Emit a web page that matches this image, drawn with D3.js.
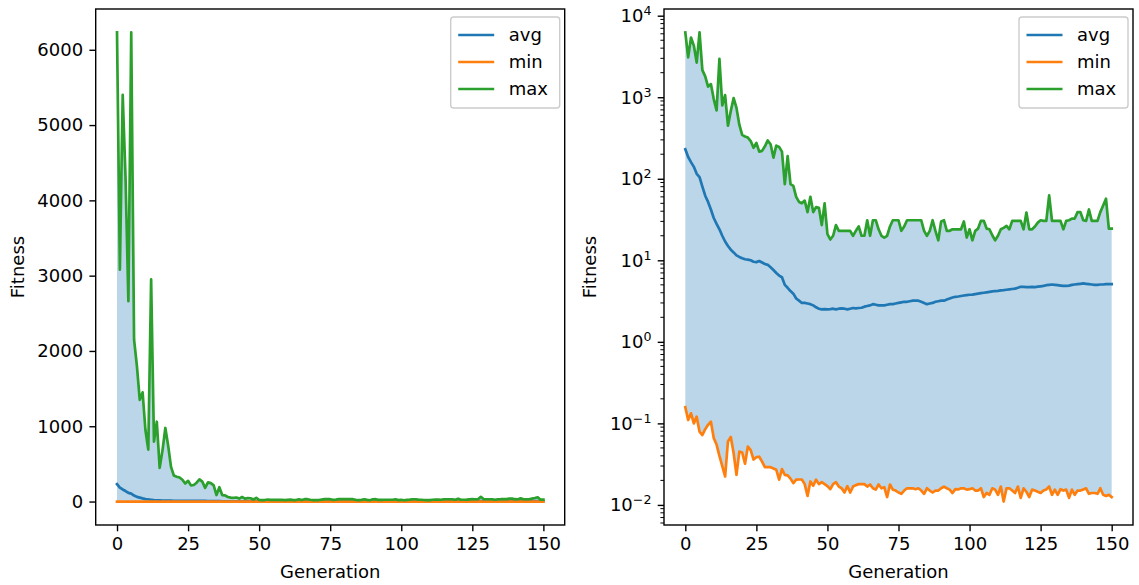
<!DOCTYPE html>
<html>
<head>
<meta charset="utf-8">
<script src="https://cdn.jsdelivr.net/npm/d3@7"></script>
<style>
  body { margin: 0; background: #fff; }
  svg { display: block; font-family: "DejaVu Sans", sans-serif; }
</style>
</head>
<body>
<div id="chart"></div>
<script>
// ========================
// Data
// ========================
const seriesNames = ["avg", "min", "max"];
const xTicks = [0, 25, 50, 75, 100, 125, 150];
const linearTicks = [0, 1000, 2000, 3000, 4000, 5000, 6000];
const logTickExps = [-2, -1, 0, 1, 2, 3, 4];

const avgValues = [
  230, 185, 160, 140, 115, 105, 80, 62, 52, 42,
  33, 28, 24, 20, 17, 15, 13.5, 12.5, 11.5, 11,
  10.6, 10.3, 10.2, 10.0, 9.6, 9.5, 9.8, 9.4, 9.0, 8.8,
  8.2, 7.6, 7.0, 6.5, 6.2, 5.0, 4.6, 4.2, 3.9, 3.4,
  3.2, 3.0, 3.0, 2.95, 2.9, 2.8, 2.65, 2.55, 2.5, 2.52,
  2.5, 2.52, 2.55, 2.5, 2.55, 2.57, 2.55, 2.5, 2.55, 2.6,
  2.58, 2.6, 2.62, 2.7, 2.75, 2.8, 2.9, 2.85, 2.8, 2.8,
  2.8, 2.85, 2.9, 2.9, 2.95, 3.0, 3.05, 3.1, 3.1, 3.15,
  3.2, 3.2, 3.2, 3.1, 3.0, 2.9, 2.95, 3.0, 3.1, 3.15,
  3.2, 3.2, 3.3, 3.4, 3.5, 3.57, 3.6, 3.65, 3.7, 3.74,
  3.78, 3.8, 3.85, 3.9, 3.95, 4.0, 4.05, 4.1, 4.15, 4.2,
  4.22, 4.28, 4.3, 4.35, 4.4, 4.45, 4.5, 4.6, 4.73, 4.72,
  4.7, 4.7, 4.72, 4.7, 4.75, 4.8, 4.85, 4.95, 5.0, 5.05,
  5.0, 4.95, 4.9, 4.85, 4.85, 4.9, 5.0, 5.05, 5.1, 5.15,
  5.2, 5.15, 5.1, 5.05, 5.0, 5.0, 5.05, 5.05, 5.1, 5.1,
  5.1
];

const minValues = [
  0.158, 0.110, 0.133, 0.100, 0.121, 0.079, 0.072, 0.085, 0.096, 0.105,
  0.066, 0.055, 0.040, 0.030, 0.0223, 0.060, 0.068, 0.043, 0.0234, 0.045,
  0.044, 0.032, 0.052, 0.047, 0.036, 0.0385, 0.039, 0.034, 0.029, 0.029,
  0.029, 0.028, 0.027, 0.0204, 0.0275, 0.0234, 0.023, 0.021, 0.0185, 0.0204,
  0.0205, 0.0205, 0.018, 0.0129, 0.0194, 0.0172, 0.0204, 0.018, 0.019, 0.018,
  0.017, 0.0156, 0.018, 0.019, 0.0168, 0.016, 0.0142, 0.017, 0.0142, 0.0168,
  0.0175, 0.018, 0.018, 0.018, 0.0168, 0.0178, 0.016, 0.0154, 0.0178, 0.016,
  0.0165, 0.0125, 0.0178, 0.0154, 0.015, 0.0142, 0.0137, 0.015, 0.016, 0.016,
  0.016, 0.0156, 0.016, 0.015, 0.0137, 0.016, 0.015, 0.0142, 0.015, 0.015,
  0.016, 0.0168, 0.016, 0.0154, 0.014, 0.0156, 0.0155, 0.016, 0.016, 0.0154,
  0.0156, 0.016, 0.015, 0.015, 0.016, 0.0125, 0.014, 0.0133, 0.016, 0.0154,
  0.0133, 0.0168, 0.011, 0.016, 0.016, 0.015, 0.014, 0.0168, 0.0122, 0.016,
  0.0145, 0.0125, 0.0154, 0.015, 0.0145, 0.014, 0.015, 0.0155, 0.0168, 0.0133,
  0.0154, 0.0133, 0.0156, 0.015, 0.0154, 0.0122, 0.0154, 0.0133, 0.015, 0.015,
  0.0155, 0.016, 0.0137, 0.014, 0.014, 0.0137, 0.016, 0.0133, 0.0129, 0.0133,
  0.0125
];

const maxValues = [
  6230, 3080, 5400, 4300, 2660, 6230, 2150, 1800, 1350, 1450,
  950, 690, 2950, 796, 1060, 447, 680, 977, 740, 460,
  345, 330, 320, 290, 240, 275, 215, 220, 250, 295,
  265, 182, 255, 245, 215, 86, 190, 86, 82, 60,
  52, 50, 54, 39, 60, 39, 45, 44, 27, 50,
  21, 18, 20, 27, 23, 23, 23, 23, 23, 20,
  23, 26, 20, 20, 31, 20, 31, 31, 24, 20,
  19, 20, 26, 31, 31, 31, 23, 26, 31, 31,
  31, 31, 31, 31, 23, 20, 23, 31, 23, 17.6,
  30, 31, 23, 23, 24, 24, 24, 24, 30, 19,
  24, 17.6, 23, 24.5, 30.5, 30.5, 24.5, 24, 20.3, 17.6,
  20, 24, 25, 26.4, 24, 30.5, 30.5, 30.5, 30.5, 24,
  38.5, 24, 24, 26, 29, 31, 30.5, 30.5, 62.6, 30.5,
  30.5, 30.5, 30.5, 24, 30.5, 31, 32.5, 32.5, 39, 39,
  31, 30.5, 42, 30.5, 30.5, 30.5, 39, 47, 57, 24.5,
  24.5
];

const generations = d3.range(avgValues.length);
const colors = { avg: "#1f77b4", min: "#ff7f0e", max: "#2ca02c" };
const valuesBySeries = { avg: avgValues, min: minValues, max: maxValues };

// ========================
// Setup
// ========================
const width = 1139, height = 585;
const fontSize = 18;
const lineW = 2.7, spineW = 1.4;
const tickLen = 6.3, tickPad = 6.3;

const svg = d3.select("#chart").append("svg")
  .attr("width", width)
  .attr("height", height);

const panels = [
  { left: 95.7, right: 564.7, top: 9, bottom: 525, log: false, ylabelX: 18 },
  { left: 664, right: 1133, top: 9, bottom: 525, log: true, ylabelX: 590 }
];

// matplotlib-style 5% margins
const xPad = (d3.max(generations) - d3.min(generations)) * 0.05;
const allMin = d3.min(minValues), allMax = d3.max(maxValues);

panels.forEach(p => {
  const x = d3.scaleLinear()
    .domain([d3.min(generations) - xPad, d3.max(generations) + xPad])
    .range([p.left, p.right]);

  let y;
  if (p.log) {
    const lo = Math.log10(allMin), hi = Math.log10(allMax);
    const pad = (hi - lo) * 0.05;
    y = d3.scaleLog().domain([10 ** (lo - pad), 10 ** (hi + pad)]).range([p.bottom, p.top]);
  } else {
    const pad = (allMax - allMin) * 0.05;
    y = d3.scaleLinear().domain([allMin - pad, allMax + pad]).range([p.bottom, p.top]);
  }

  const g = svg.append("g");

  // clip to the axes box
  const clipId = "clip" + (p.log ? "Log" : "Lin");
  svg.append("clipPath").attr("id", clipId)
    .append("rect")
    .attr("x", p.left).attr("y", p.top)
    .attr("width", p.right - p.left).attr("height", p.bottom - p.top);

  const plot = g.append("g").attr("clip-path", `url(#${clipId})`);

  // fill between min and max
  const area = d3.area()
    .x(i => x(generations[i]))
    .y0(i => y(minValues[i]))
    .y1(i => y(maxValues[i]));

  plot.append("path")
    .datum(generations)
    .attr("d", area)
    .attr("fill", colors.avg)
    .attr("fill-opacity", 0.3);

  // lines
  seriesNames.forEach(name => {
    const vals = valuesBySeries[name];
    const line = d3.line()
      .x(i => x(generations[i]))
      .y(i => y(vals[i]));
    plot.append("path")
      .datum(generations)
      .attr("d", line)
      .attr("fill", "none")
      .attr("stroke", colors[name])
      .attr("stroke-width", lineW)
      .attr("stroke-linejoin", "round")
      .attr("stroke-linecap", "square");
  });

  // x axis
  const xAxis = d3.axisBottom(x)
    .tickValues(xTicks)
    .tickSize(tickLen)
    .tickPadding(tickPad)
    .tickFormat(d3.format("d"));

  const gx = g.append("g")
    .attr("transform", `translate(0,${p.bottom})`)
    .call(xAxis);
  gx.select(".domain").remove();
  gx.selectAll(".tick line").attr("stroke", "#000").attr("stroke-width", spineW);
  gx.selectAll(".tick text")
    .attr("fill", "#000")
    .style("font-size", fontSize + "px")
    .style("font-family", "DejaVu Sans");

  // y axis
  const gy = g.append("g").attr("transform", `translate(${p.left},0)`);
  if (p.log) {
    const yAxis = d3.axisLeft(y)
      .tickValues(logTickExps.map(e => 10 ** e))
      .tickSize(tickLen)
      .tickPadding(tickPad)
      .tickFormat("");
    gy.call(yAxis);
    gy.selectAll(".tick").each(function (d, i) {
      const t = d3.select(this).select("text").text(null);
      const e = logTickExps[i];
      t.attr("dy", "0.32em");
      t.append("tspan").text("10");
      t.append("tspan")
        .attr("dy", "-0.55em")
        .style("font-size", (fontSize * 0.7) + "px")
        .text(e < 0 ? "\u2212" + Math.abs(e) : String(e));
    });
    // minor ticks
    const [d0, d1] = y.domain();
    const minor = [];
    for (let e = -3; e <= 4; e++) {
      for (let m = 2; m <= 9; m++) {
        const v = m * 10 ** e;
        if (v >= d0 && v <= d1) minor.push(v);
      }
    }
    gy.selectAll(".minor")
      .data(minor)
      .enter()
      .append("line")
      .attr("class", "minor")
      .attr("x1", -3.6).attr("x2", 0)
      .attr("y1", d => y(d)).attr("y2", d => y(d))
      .attr("stroke", "#000")
      .attr("stroke-width", 1.0);
  } else {
    const yAxis = d3.axisLeft(y)
      .tickValues(linearTicks)
      .tickSize(tickLen)
      .tickPadding(tickPad)
      .tickFormat(d3.format("d"));
    gy.call(yAxis);
  }
  gy.select(".domain").remove();
  gy.selectAll(".tick line").attr("stroke", "#000").attr("stroke-width", spineW);
  gy.selectAll(".tick text")
    .attr("fill", "#000")
    .style("font-size", fontSize + "px")
    .style("font-family", "DejaVu Sans");

  // frame
  g.append("rect")
    .attr("x", p.left).attr("y", p.top)
    .attr("width", p.right - p.left).attr("height", p.bottom - p.top)
    .attr("fill", "none")
    .attr("stroke", "#000")
    .attr("stroke-width", spineW);

  // axis labels
  g.append("text")
    .attr("x", (p.left + p.right) / 2)
    .attr("y", 572)
    .attr("dy", "0.35em")
    .attr("text-anchor", "middle")
    .style("font-size", fontSize + "px")
    .text("Generation");

  g.append("text")
    .attr("transform", `translate(${p.ylabelX},${(p.top + p.bottom) / 2}) rotate(-90)`)
    .attr("text-anchor", "middle")
    .attr("dy", "0.35em")
    .style("font-size", fontSize + "px")
    .text("Fitness");

  // legend (upper right)
  const legW = 109, legH = 91;
  const lx = p.right - 5 - legW, ly = p.top + 8;
  const legend = g.append("g").attr("transform", `translate(${lx},${ly})`);
  legend.append("rect")
    .attr("width", legW).attr("height", legH)
    .attr("rx", 3)
    .attr("fill", "#fff").attr("fill-opacity", 0.8)
    .attr("stroke", "#ccc").attr("stroke-width", 1.4);

  seriesNames.forEach((name, i) => {
    const ry = 18 + i * 27;
    legend.append("line")
      .attr("x1", 7.5).attr("x2", 43.5)
      .attr("y1", ry).attr("y2", ry)
      .attr("stroke", colors[name])
      .attr("stroke-width", lineW);
    legend.append("text")
      .attr("x", 58).attr("y", ry)
      .attr("dy", "0.35em")
      .style("font-size", fontSize + "px")
      .text(name);
  });
});
</script>
</body>
</html>
